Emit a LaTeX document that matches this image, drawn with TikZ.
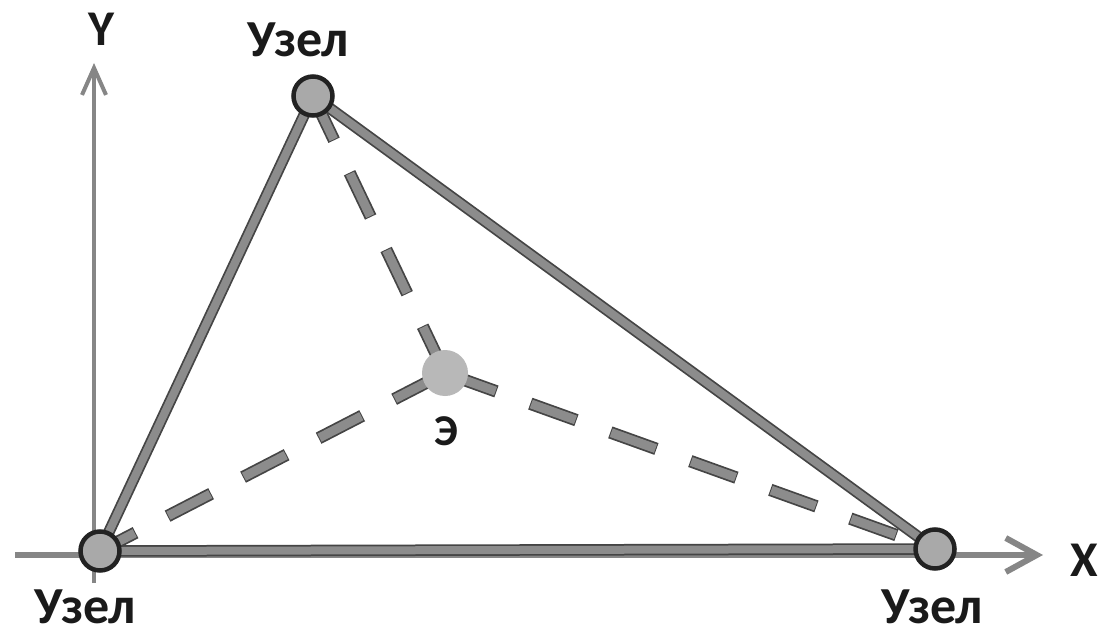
\documentclass[tikz,border=0pt]{standalone}
\usepackage{fontspec}
\setmainfont{Carlito}
\usetikzlibrary{arrows.meta}
\definecolor{edgefill}{HTML}{8C8C8C}
\definecolor{edgeline}{HTML}{454545}
\definecolor{nodefill}{HTML}{A9A9A9}
\definecolor{nodeline}{HTML}{222222}
\definecolor{elemfill}{HTML}{B8B8B8}
\definecolor{axiscol}{HTML}{868686}
\definecolor{textcol}{HTML}{1A1A1A}
\pgfdeclarelayer{paper}
\pgfdeclarelayer{bg}
\pgfsetlayers{paper,bg,main}
\begin{document}
\begin{tikzpicture}[x=1pt,y=-1pt,
  nodeball/.style={circle, fill=nodefill, draw=nodeline, line width=4.5pt, minimum size=39pt, inner sep=0pt},
  elemball/.style={circle, fill=elemfill, minimum size=46pt, inner sep=0pt},
  edgeout/.style={draw=edgeline, line width=11.5pt},
  edgein/.style={draw=edgefill, line width=8pt},
  dashout/.style={draw=edgeline, line width=12.5pt, dash pattern=on 49pt off 36pt, dash phase=#1},
  dashin/.style={draw=edgefill, line width=9pt, dash pattern=on 47pt off 38pt, dash phase=#1},
  axisline/.style={draw=axiscol},
  biglabel/.style={font=\fontsize{52}{60}\selectfont\bfseries, text=textcol, inner sep=0pt},
  axlabel/.style={font=\fontsize{50}{58}\selectfont\bfseries, text=textcol, inner sep=0pt},
  elemlabel/.style={font=\fontsize{44}{52}\selectfont\bfseries, text=textcol, inner sep=0pt},
  ]
\useasboundingbox (0,0) rectangle (1107,636);
\begin{pgfonlayer}{paper}
\fill[white] (0,0) rectangle (1107,636);
\end{pgfonlayer}

% nodes
\node[nodeball] (n1) at (100,551) {};
\node[nodeball] (n2) at (313,96) {};
\node[nodeball] (n3) at (935,549) {};
\node[elemball] (e) at (445,373) {};

% axes
\coordinate (xs) at (15,555);
\coordinate (xe) at (1043,555);
\coordinate (ys) at (94,583);
\coordinate (ye) at (94,63);

\begin{pgfonlayer}{bg}
\draw[axisline, line width=6pt, -{Straight Barb[length=31pt,width=34pt]}] (xs) -- (xe);
\draw[axisline, line width=4pt, -{Straight Barb[length=27pt,width=24pt]}] (ys) -- (ye);
% triangle edges
\draw[edgeout] (n1.center) -- (n2.center) -- (n3.center) -- cycle;
\draw[edgein] (n1.center) -- (n2.center) -- (n3.center) -- cycle;
% dashed links to element
\draw[dashout=0] (n2.center) -- (e.center);
\draw[dashin=84] (n2.center) -- (e.center);
\draw[dashout=9] (n1.center) -- (e.center);
\draw[dashin=8] (n1.center) -- (e.center);
\draw[dashout=44] (n3.center) -- (e.center);
\draw[dashin=43] (n3.center) -- (e.center);
\end{pgfonlayer}

% labels
\node[biglabel] (l2) at (298,40) {Узел};
\node[biglabel] (l1) at (85,607) {Узел};
\node[biglabel] (l3) at (932,607) {Узел};
\node[axlabel] (ly) at (101,29) {Y};
\node[axlabel] (lx) at (1084,560) {X};
\node[elemlabel] (le) at (446,431) {Э};
\end{tikzpicture}
\end{document}
